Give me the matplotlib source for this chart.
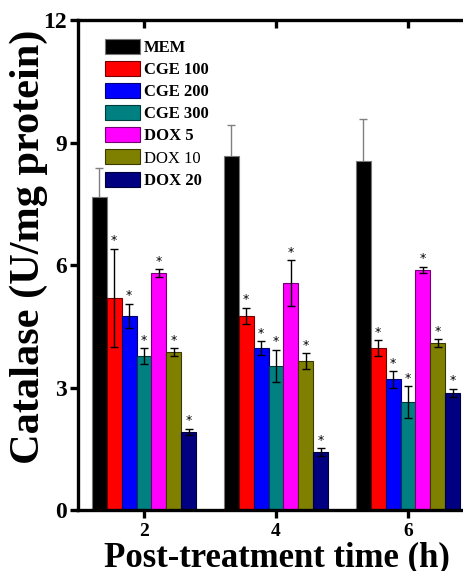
import numpy as np
import matplotlib
matplotlib.use("Agg")
import matplotlib.pyplot as plt
from matplotlib.patches import Patch
from matplotlib.colors import to_rgb

plt.rcParams['font.family'] = ['Liberation Serif', 'DejaVu Serif']

times = [2, 4, 6]
groups = ['MEM', 'CGE 100', 'CGE 200', 'CGE 300', 'DOX 5', 'DOX 10', 'DOX 20']
colors = ['#000000', '#FF0000', '#0000FF', '#008080', '#FF00FF', '#808000', '#000080']

# catalase values per group, at 2, 4, 6 h
means = {
    'MEM':     [7.67, 8.67, 8.55],
    'CGE 100': [5.19, 4.75, 3.97],
    'CGE 200': [4.75, 3.97, 3.20],
    'CGE 300': [3.77, 3.53, 2.64],
    'DOX 5':   [5.80, 5.56, 5.88],
    'DOX 10':  [3.87, 3.65, 4.09],
    'DOX 20':  [1.91, 1.42, 2.87],
}
errors = {
    'MEM':     [0.71, 0.76, 1.02],
    'CGE 100': [1.21, 0.20, 0.19],
    'CGE 200': [0.30, 0.17, 0.20],
    'CGE 300': [0.20, 0.40, 0.39],
    'DOX 5':   [0.10, 0.56, 0.08],
    'DOX 10':  [0.10, 0.19, 0.10],
    'DOX 20':  [0.08, 0.10, 0.10],
}
significant = ['CGE 100', 'CGE 200', 'CGE 300', 'DOX 5', 'DOX 10', 'DOX 20']


def edge_of(c):
    return '#777777' if c == '#000000' else tuple(v * 0.45 for v in to_rgb(c))


W, H = 463, 571
fig = plt.figure(figsize=(W / 100, H / 100), dpi=100)
ax = fig.add_axes([78 / W, 1 - 510 / H, (W - 78) / W, (510 - 20) / H])

bw = 0.227
x = np.array(times, dtype=float)
n = len(groups)
for i, g in enumerate(groups):
    pos = x + (i - (n - 1) / 2) * bw
    c = colors[i]
    ax.bar(pos, means[g], width=bw, color=c, edgecolor=edge_of(c), linewidth=0.8, zorder=2)
    if g == 'MEM':
        # lower half is hidden behind the black bar
        ax.errorbar(pos, means[g], yerr=errors[g], fmt='none', ecolor='#808080',
                    elinewidth=1.0, capsize=3, capthick=1.0, zorder=1)
    else:
        ax.errorbar(pos, means[g], yerr=errors[g], fmt='none', ecolor='black',
                    elinewidth=1.0, capsize=3, capthick=1.0, zorder=3)
    if g in significant:
        for p, m, e in zip(pos, means[g], errors[g]):
            ax.annotate('*', (p, m + e), xytext=(0, 1), textcoords='offset points',
                        ha='center', va='bottom', fontsize=9, family='DejaVu Sans')

ax.set_xlim(1, 1 + (W - 78) / 66)
ax.set_ylim(0, 12)
ax.set_yticks([0, 3, 6, 9, 12])
ax.set_xticks(times)
ax.set_xticklabels([str(t) for t in times], fontsize=14, fontweight='bold')
ax.set_yticklabels(['0', '3', '6', '9', '12'], fontsize=17, fontweight='bold')

for s in ['left', 'bottom', 'top']:
    ax.spines[s].set_linewidth(2.4)
ax.spines['right'].set_visible(False)
ax.tick_params(axis='y', direction='out', length=6, width=2.4, pad=2)
ax.tick_params(axis='x', direction='out', length=6, width=2.4, pad=3, top=True)

# top ticks point inward
for t in ax.xaxis.get_major_ticks():
    t.tick2line.set_marker(3)
    t.tick2line.set_markersize(6)

fig.text(29 / W, 1 - 247 / H, 'Catalase (U/mg protein)', fontsize=30.5,
         fontweight='bold', rotation=90, ha='center', va='center')
fig.text(0.598, 0.009, 'Post-treatment time (h)', fontsize=25,
         fontweight='bold', ha='center', va='baseline')

handles = [Patch(facecolor=c, edgecolor=edge_of(c), linewidth=0.8) for c in colors]
leg = ax.legend(handles, groups, loc='upper left', bbox_to_anchor=(20 / (W - 78), 1 - 12 / 490),
                frameon=False, fontsize=12, handlelength=2.1, handleheight=1.0,
                handletextpad=0.25, labelspacing=0.3, borderaxespad=0)
for txt, g in zip(leg.get_texts(), groups):
    txt.set_fontweight('normal' if g == 'DOX 10' else 'bold')

fig.savefig('out.png', dpi=100)
